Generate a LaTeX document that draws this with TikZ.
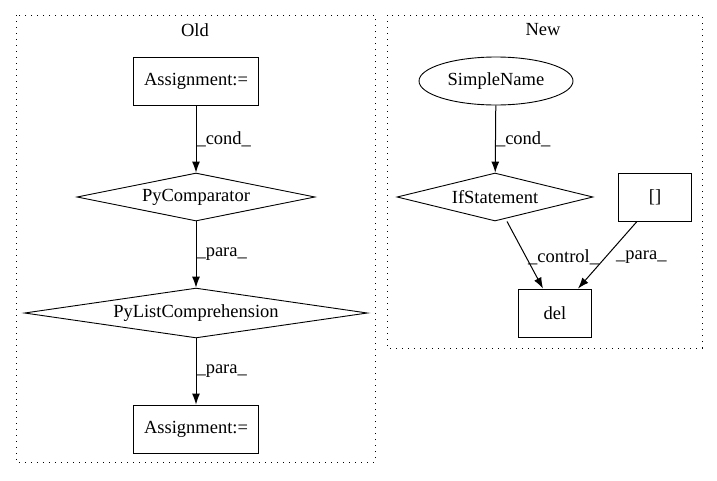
\documentclass[tikz,border=0pt]{standalone}
\usepackage{fontspec}
\setmainfont{Liberation Serif}
\usetikzlibrary{shapes.geometric,arrows.meta}
\tikzset{
	box/.style={draw=black, line width=0.9pt, solid, rectangle, minimum width=125pt, minimum height=48pt, inner sep=0pt},
	cond/.style={draw=black, line width=0.9pt, solid, diamond, aspect=5, inner sep=0pt},
	oval/.style={draw=black, line width=0.9pt, solid, ellipse, minimum width=154pt, minimum height=48pt, inner sep=0pt},
	cluster/.style={draw=black, line width=1pt, dash pattern=on 1.2pt off 4.8pt},
	edge/.style={draw=black, line width=1pt, -{Latex[length=11pt,width=8pt]}},
	lbl/.style={anchor=west, inner sep=1pt}
}
\begin{document}
\begin{tikzpicture}[x=1pt, y=-1pt, font=\fontsize{18.5}{21}\selectfont]
	\useasboundingbox (0,0) rectangle (717,480);
	% clusters
	\draw[cluster] (16,15) rectangle (375,462);
	\node[black] (old) at (195,30) {Old};
	\draw[cluster] (387,15) rectangle (702,348);
	\node[black] (new) at (543,30) {New};
	% old graph
	\node[box] (asgn1) at (196,81) {Assignment:=};
	\node[cond, minimum width=238pt, minimum height=48pt] (comp) at (196,197) {PyComparator};
	\node[cond, minimum width=343pt, minimum height=48pt] (listc) at (196,313) {PyListComprehension};
	\node[box] (asgn2) at (196,429) {Assignment:=};
	\draw[edge] (asgn1) -- (comp) node[lbl, midway, xshift=-1pt] {\_cond\_};
	\draw[edge] (comp) -- (listc) node[lbl, midway, xshift=-1pt] {\_para\_};
	\draw[edge] (listc) -- (asgn2) node[lbl, midway, xshift=-1pt] {\_para\_};
	% new graph
	\node[oval] (sname) at (496,81) {SimpleName};
	\node[cond, minimum width=196pt, minimum height=48pt] (ifst) at (495,197) {IfStatement};
	\node[box, minimum width=73pt] (brk) at (655,197) {[]};
	\node[box, minimum width=73pt] (del) at (555,313) {del};
	\draw[edge] (sname) -- (ifst) node[lbl, midway, xshift=-1pt] {\_cond\_};
	\draw[edge] (ifst.south) ++(12,0) coordinate (ifs) (ifs) -- (del.north -| 543,0) coordinate (dn1);
	\node[lbl] (ctl) at (527,257) {\_control\_};
	\draw[edge] (brk.south) ++(-18,0) coordinate (brs) (brs) -- (del.north -| 578,0);
	\node[lbl] (para3) at (615,257) {\_para\_};
\end{tikzpicture}
\end{document}
